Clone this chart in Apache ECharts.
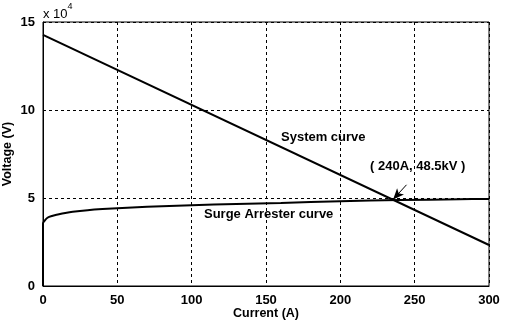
<!DOCTYPE html>
<html><head><meta charset="utf-8">
<script src="https://cdn.jsdelivr.net/npm/echarts@6/dist/echarts.min.js"></script>
<style>html,body{margin:0;padding:0;background:#fff}#c{width:506px;height:322px}</style>
</head><body><div id="c"></div>
<script>
const systemCurrent = [0, 300];
const systemVoltage = [142700, 23300];
const arresterCurrent = [0, 0, 1, 3, 6, 10, 15, 20, 30, 40, 60, 80, 100, 130, 160, 200, 240, 280, 300];
const arresterVoltage = [0, 35500, 37000, 38800, 39800, 40600, 41500, 42200, 43100, 43700, 44600, 45300, 45900, 46600, 47200, 48200, 48800, 49300, 49500];
const xTicks = [0, 50, 100, 150, 200, 250, 300];
const yTicks = [0, 50000, 100000, 150000];
const annotation = {text: '( 240A, 48.5kV )', from: [244.5, 57500], to: [235.5, 49200]};

const font = 'Liberation Sans, Arial, sans-serif';
const chart = echarts.init(document.getElementById('c'));
chart.setOption({
  animation: false,
  grid: {left: 43, right: 17, top: 22, bottom: 36, show: true, borderColor: '#000', borderWidth: 1,
    containLabel: false, outerBoundsMode: 'none'},
  xAxis: {
    type: 'value', min: xTicks[0], max: xTicks[xTicks.length-1], interval: 50,
    name: 'Current (A)', nameLocation: 'middle', nameGap: 21, nameMoveOverlap: false,
    nameTextStyle: {fontFamily: font, fontWeight: 'bold', fontSize: 12.5, color: '#000'},
    axisLine: {show: true, lineStyle: {color: '#000'}},
    axisTick: {show: false},
    axisLabel: {fontFamily: font, fontWeight: 'bold', fontSize: 13, color: '#000', margin: 8},
    splitLine: {show: true, lineStyle: {color: '#000', type: [3, 3], width: 1}}
  },
  yAxis: {
    type: 'value', min: yTicks[0], max: yTicks[yTicks.length-1], interval: 50000,
    name: 'Voltage (V)', nameLocation: 'middle', nameGap: 29, nameRotate: 90, nameMoveOverlap: false,
    nameTextStyle: {fontFamily: font, fontWeight: 'bold', fontSize: 12.5, color: '#000'},
    axisLine: {show: true, lineStyle: {color: '#000'}},
    axisTick: {show: false},
    axisLabel: {fontFamily: font, fontWeight: 'bold', fontSize: 13, color: '#000', margin: 8,
      formatter: v => String(v / 10000)},
    splitLine: {show: true, lineStyle: {color: '#000', type: [3, 3], width: 1}}
  },
  series: [
    {type: 'line', data: systemCurrent.map((x, i) => [x, systemVoltage[i]]), symbol: 'none',
     lineStyle: {color: '#000', width: 2}},
    {type: 'line', data: arresterCurrent.map((x, i) => [x, arresterVoltage[i]]), symbol: 'none', smooth: 0.3,
     lineStyle: {color: '#000', width: 2},
     markLine: {silent: true, symbol: ['none', 'arrow'], symbolSize: [7, 11],
       lineStyle: {color: '#000', type: 'solid', width: 1}, label: {show: false},
       data: [[{coord: annotation.from}, {coord: annotation.to}]]}
    }
  ],
  graphic: [
    {type: 'text', left: 43, top: 2, style: {text: '{a|x 10}{b|4}', rich: {
      a: {fontFamily: font, fontSize: 13, fill: '#000', verticalAlign: 'bottom', padding: [6,0,0,0]},
      b: {fontFamily: font, fontSize: 9, fill: '#000', verticalAlign: 'top'}}}},
    {type: 'text', left: 281, top: 131, style: {text: 'System curve', fontFamily: font, fontWeight: 'bold', fontSize: 13, fill: '#000'}},
    {type: 'text', left: 204, top: 208, style: {text: 'Surge Arrester curve', fontFamily: font, fontWeight: 'bold', fontSize: 13, fill: '#000'}},
    {type: 'text', left: 370, top: 160, style: {text: annotation.text, fontFamily: font, fontWeight: 'bold', fontSize: 13, fill: '#000'}}
  ]
});
</script></body></html>
